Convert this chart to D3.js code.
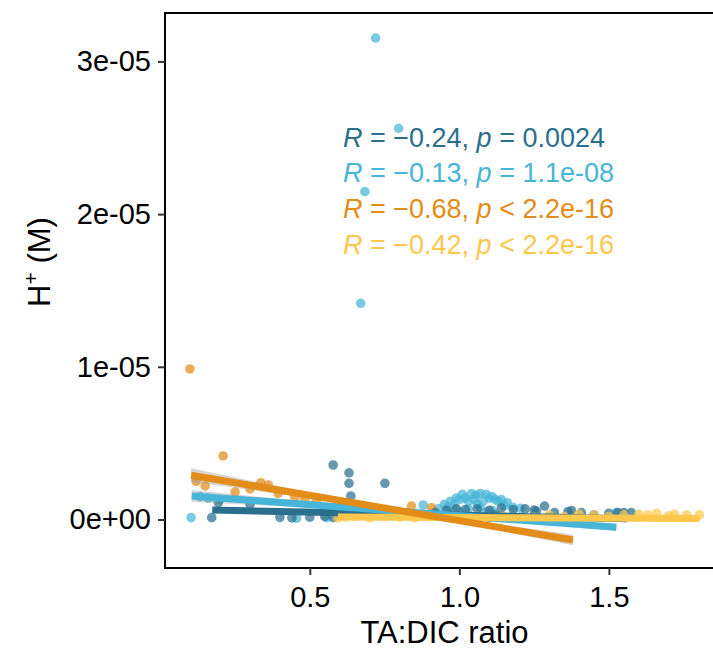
<!DOCTYPE html>
<html>
<head>
<meta charset="utf-8">
<script src="https://cdn.jsdelivr.net/npm/d3@7"></script>
<style>
	body { margin: 0; background: #fff; }
	text { font-family: 'Liberation Sans', Arial, sans-serif; }
</style>
</head>
<body>
<svg id="canvas"></svg>
<script>
// four groups, in the order the correlation labels are stacked
const groups = ['A', 'B', 'C', 'D'];
const groupColors = ['#2b6f8e', '#46b5d7', '#e38c18', '#fdc74c'];

// TA:DIC ratio, H+ (M)
const pointsA = [
	[0.172, 0.012e-5], [0.194, 0.11e-5], [0.30, 0.10e-5], [0.40, 0.014e-5], [0.44, 0.01e-5],
	[0.50, 0.015e-5], [0.55, 0.02e-5], [0.578, 0.357e-5], [0.631, 0.306e-5], [0.631, 0.237e-5],
	[0.637, 0.154e-5], [0.578, 0.012e-5], [0.751, 0.237e-5], [0.70, 0.03e-5], [0.80, 0.04e-5],
	[0.86, 0.03e-5], [0.92, 0.045e-5], [0.957, 0.06e-5], [0.99, 0.07e-5], [1.02, 0.065e-5],
	[1.06, 0.07e-5], [1.10, 0.06e-5], [1.14, 0.075e-5], [1.18, 0.065e-5], [1.22, 0.07e-5],
	[1.258, 0.055e-5], [1.25, 0.062e-5], [1.285, 0.088e-5], [1.318, 0.045e-5], [1.363, 0.051e-5],
	[1.375, 0.058e-5], [1.408, 0.045e-5], [1.45, 0.03e-5], [1.50, 0.04e-5], [1.53, 0.045e-5],
	[1.55, 0.045e-5], [1.575, 0.045e-5], [0.97, 0.03e-5], [1.04, 0.02e-5], [1.12, 0.03e-5]
];
const pointsB = [
	[0.72, 3.153e-5], [0.797, 2.562e-5], [0.684, 2.147e-5], [0.67, 1.416e-5], [0.103, 0.012e-5],
	[0.133, 0.15e-5], [0.16, 0.14e-5], [0.20, 0.13e-5], [0.456, 0.008e-5], [0.556, 0.012e-5],
	[0.879, 0.095e-5], [0.93, 0.07e-5], [0.95, 0.10e-5], [0.96, 0.08e-5], [0.97, 0.12e-5],
	[0.98, 0.09e-5], [0.99, 0.14e-5], [1.00, 0.13e-5], [1.01, 0.165e-5], [1.02, 0.14e-5],
	[1.03, 0.12e-5], [1.04, 0.17e-5], [1.05, 0.13e-5], [1.055, 0.16e-5], [1.06, 0.10e-5],
	[1.07, 0.17e-5], [1.08, 0.12e-5], [1.09, 0.165e-5], [1.10, 0.14e-5], [1.11, 0.15e-5],
	[1.12, 0.13e-5], [1.13, 0.12e-5], [1.14, 0.13e-5], [1.15, 0.09e-5], [1.16, 0.11e-5],
	[1.03, 0.07e-5], [1.07, 0.08e-5], [1.11, 0.06e-5], [1.00, 0.05e-5], [1.09, 0.05e-5],
	[1.18, 0.08e-5], [1.205, 0.073e-5], [1.525, 0.045e-5], [1.30, 0.02e-5], [1.40, 0.01e-5]
];
const pointsC = [
	[0.099, 0.986e-5], [0.21, 0.416e-5], [0.336, 0.241e-5], [0.361, 0.226e-5], [0.394, 0.171e-5],
	[0.45, 0.145e-5], [0.483, 0.132e-5], [0.522, 0.117e-5], [0.84, 0.088e-5], [0.907, 0.077e-5],
	[0.12, 0.25e-5], [0.15, 0.22e-5], [0.25, 0.18e-5], [0.30, 0.20e-5], [0.60, 0.08e-5],
	[0.70, 0.05e-5], [0.75, 0.06e-5], [1.00, 0.02e-5], [1.10, 0.01e-5], [1.20, 0.01e-5],
	[1.30, 0.005e-5], [1.38, 0.003e-5]
];
const pointsD = [
	[0.594, 0.01e-5], [0.62, 0.015e-5], [0.65, 0.02e-5], [0.70, 0.01e-5], [0.75, 0.02e-5],
	[0.80, 0.015e-5], [0.85, 0.01e-5], [0.90, 0.02e-5], [0.95, 0.015e-5], [1.00, 0.01e-5],
	[1.05, 0.02e-5], [1.10, 0.015e-5], [1.15, 0.02e-5], [1.20, 0.01e-5], [1.25, 0.015e-5],
	[1.30, 0.03e-5], [1.35, 0.02e-5], [1.40, 0.035e-5], [1.45, 0.03e-5], [1.50, 0.02e-5],
	[1.55, 0.03e-5], [1.60, 0.035e-5], [1.63, 0.03e-5], [1.66, 0.04e-5], [1.70, 0.025e-5],
	[1.72, 0.035e-5], [1.76, 0.03e-5], [1.803, 0.03e-5]
];

// linear fits: x ends, y ends, CI half-width at start / middle / end
const fitX = [[0.174, 1.56], [0.105, 1.525], [0.103, 1.38], [0.594, 1.803]];
const fitY = [[0.062e-5, 0.005e-5], [0.154e-5, -0.051e-5], [0.29e-5, -0.134e-5], [0.017e-5, 0.007e-5]];
const fitSe = [[0.02e-5, 0.008e-5, 0.02e-5], [0.04e-5, 0.01e-5, 0.025e-5], [0.045e-5, 0.012e-5, 0.035e-5], [0.01e-5, 0.004e-5, 0.01e-5]];

const statR = ['\u22120.24', '\u22120.13', '\u22120.68', '\u22120.42'];
const statP = ['= 0.0024', '= 1.1e-08', '< 2.2e-16', '< 2.2e-16'];

const xTicks = [0.5, 1.0, 1.5];
const xTickLabels = ['0.5', '1.0', '1.5'];
const yTicks = [0, 1e-5, 2e-5, 3e-5];
const yTickLabels = ['0e+00', '1e-05', '2e-05', '3e-05'];

function draw () {
	const W = 713, H = 649;
	const panel = { left: 165, top: 13, right: 724, bottom: 568 };

	const svg = d3.select('#canvas')
		.attr('width', W)
		.attr('height', H)
		.style('display', 'block');

	const x = d3.scaleLinear().domain([0.0157, 1.885]).range([panel.left, panel.right]);
	const y = d3.scaleLinear().domain([-0.3176e-5, 3.317e-5]).range([panel.bottom, panel.top]);

	const allPoints = [pointsA, pointsB, pointsC, pointsD];
	const drawOrder = [1, 2, 0, 3];

	const gPts = svg.append('g').attr('class', 'points');
	drawOrder.forEach(i => {
		gPts.selectAll(null)
			.data(allPoints[i])
			.join('circle')
			.attr('cx', d => x(d[0]))
			.attr('cy', d => y(d[1]))
			.attr('r', 4.8)
			.style('fill', groupColors[i])
			.style('fill-opacity', 0.72);
	});

	// ribbons + fitted lines
	const gFit = svg.append('g').attr('class', 'fits');
	const lineOrder = [0, 1, 3, 2];
	lineOrder.forEach(i => {
		const [x0, x1] = fitX[i];
		const [y0, y1] = fitY[i];
		const se = fitSe[i];
		const band = [
			{ x: x0, y: y0, s: se[0] },
			{ x: (x0 + x1) / 2, y: (y0 + y1) / 2, s: se[1] },
			{ x: x1, y: y1, s: se[2] }
		];
		const area = d3.area()
			.x(d => x(d.x))
			.y0(d => y(d.y - d.s))
			.y1(d => y(d.y + d.s))
			.curve(d3.curveNatural);
		gFit.append('path')
			.attr('d', area(band))
			.style('fill', '#999')
			.style('fill-opacity', 0.4);
		gFit.append('line')
			.attr('x1', x(x0)).attr('x2', x(x1))
			.attr('y1', y(y0)).attr('y2', y(y1))
			.style('stroke', groupColors[i])
			.style('stroke-width', 7);
	});

	// correlation labels
	const gLab = svg.append('g').attr('class', 'stats');
	groups.forEach((g, i) => {
		const t = gLab.append('text')
			.attr('x', 343)
			.attr('y', 146.5 + i * 35.8)
			.style('font-size', '27px')
			.style('fill', groupColors[i]);
		t.append('tspan').style('font-style', 'italic').text('R');
		t.append('tspan').text(` = ${statR[i]}, `);
		t.append('tspan').style('font-style', 'italic').text('p');
		t.append('tspan').text(` ${statP[i]}`);
	});

	// panel border
	svg.append('rect')
		.attr('x', panel.left)
		.attr('y', panel.top)
		.attr('width', panel.right - panel.left)
		.attr('height', panel.bottom - panel.top)
		.style('fill', 'none')
		.style('stroke', '#000')
		.style('stroke-width', 2);

	const yAxis = svg.append('g')
		.attr('transform', `translate(${panel.left},0)`)
		.call(d3.axisLeft(y).tickValues(yTicks).tickFormat((d, i) => yTickLabels[i]).tickSize(7).tickPadding(7));
	const xAxis = svg.append('g')
		.attr('transform', `translate(0,${panel.bottom})`)
		.call(d3.axisBottom(x).tickValues(xTicks).tickFormat((d, i) => xTickLabels[i]).tickSize(7).tickPadding(11));

	[xAxis, yAxis].forEach(a => {
		a.select('.domain').remove();
		a.selectAll('.tick line').style('stroke', '#333').style('stroke-width', 2);
		a.selectAll('.tick text')
			.style('font-size', '29px')
			.style('fill', '#000')
			.style('font-family', "'Liberation Sans', Arial, sans-serif");
	});

	svg.append('text')
		.attr('x', (panel.left + panel.right) / 2)
		.attr('y', 643)
		.attr('text-anchor', 'middle')
		.style('font-size', '31px')
		.text('TA:DIC ratio');

	const yt = svg.append('text')
		.attr('transform', 'translate(50,262) rotate(-90)')
		.attr('text-anchor', 'middle')
		.style('font-size', '31px');
	yt.append('tspan').text('H');
	yt.append('tspan').attr('dy', -12).style('font-size', '21px').text('+');
	yt.append('tspan').attr('dy', 12).text(' (M)');
}

draw();
</script>
</body>
</html>
